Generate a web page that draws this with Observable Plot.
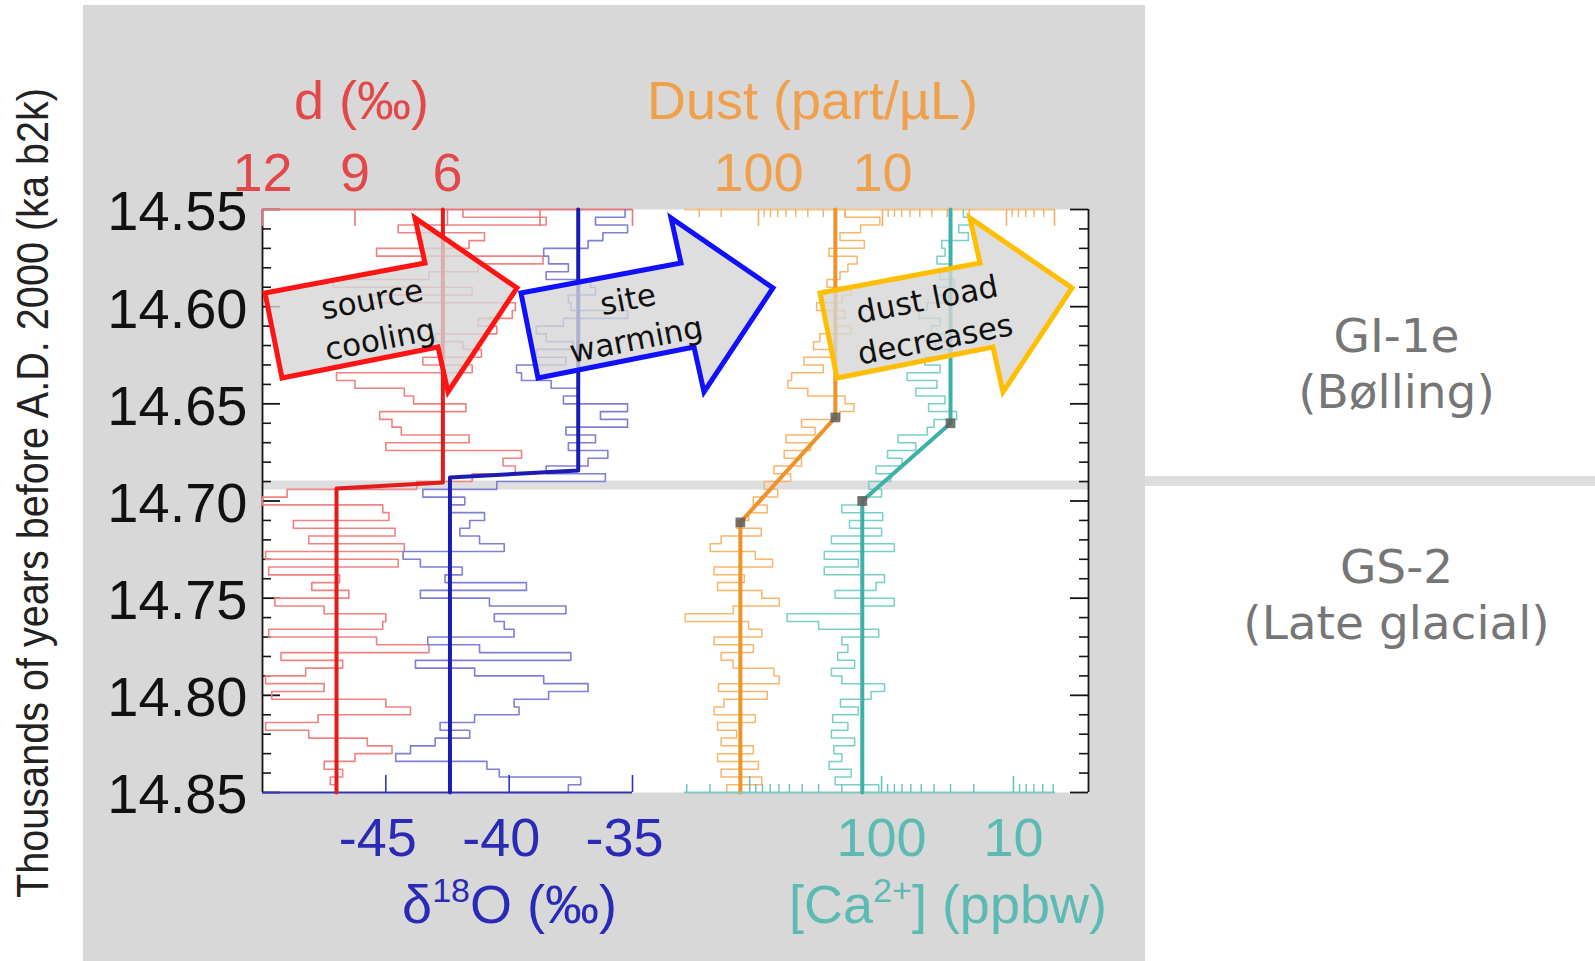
<!DOCTYPE html>
<html>
<head>
<meta charset="utf-8">
<script src="https://cdn.jsdelivr.net/npm/d3@7"></script>
<script src="https://cdn.jsdelivr.net/npm/@observablehq/plot@0.6"></script>
<style>
  html, body { margin: 0; padding: 0; background: #fff; }
  #chart { position: relative; width: 1595px; height: 961px; overflow: hidden; background: #fff; }
  #panel { position: absolute; left: 83px; top: 5px; width: 1062px; height: 956px; background: #d8d8d8; }
  #chart svg { position: absolute; left: 0; top: 0; }
</style>
</head>
<body>
<div id="chart"><div id="panel"></div></div>
<script>
// ---- Data: NGRIP profiles across the GS-2 / GI-1e transition ----
const ages = [
  14.550, 14.554, 14.558, 14.562, 14.566, 14.570, 14.574, 14.578, 14.582, 14.586,
  14.590, 14.594, 14.598, 14.602, 14.606, 14.610, 14.614, 14.618, 14.622, 14.626,
  14.630, 14.634, 14.638, 14.642, 14.646, 14.650, 14.654, 14.658, 14.662, 14.666,
  14.670, 14.674, 14.678, 14.682, 14.686, 14.690, 14.694, 14.698, 14.702, 14.706,
  14.710, 14.714, 14.718, 14.722, 14.726, 14.730, 14.734, 14.738, 14.742, 14.746,
  14.750, 14.754, 14.758, 14.762, 14.766, 14.770, 14.774, 14.778, 14.782, 14.786,
  14.790, 14.794, 14.798, 14.802, 14.806, 14.810, 14.814, 14.818, 14.822, 14.826,
  14.830, 14.834, 14.838, 14.842, 14.846, 14.850
];

// deuterium excess d (per mil)
const dExcess = [
  5.5, 2.8, 7.6, 4.8, 5.3, 8.3, 2.9, 5.0, 6.6, 9.7,
  5.2, 8.5, 3.8, 3.9, 5.0, 4.4, 6.4, 5.5, 4.9, 6.8,
  5.2, 9.6, 9.0, 7.4, 7.1, 5.4, 8.2, 7.8, 7.5, 5.3,
  8.0, 3.6, 4.2, 3.8, 5.2, 7.0, 11.2, 12.0, 8.1, 7.9,
  11.0, 7.7, 10.5, 7.4, 11.9, 7.6, 11.8, 9.5, 10.4, 9.2,
  11.6, 10.0, 8.0, 8.1, 11.8, 8.3, 6.6, 11.4, 9.4, 10.6,
  11.9, 10.0, 11.7, 8.0, 7.2, 10.2, 11.9, 10.5, 8.6, 7.8,
  9.0, 10.0, 9.4, 9.8, 9.6, 9.6
];

// delta 18O (per mil)
const d18O = [
  -35.3, -36.5, -35.2, -36.2, -36.8, -38.6, -38.4, -37.6, -38.5, -36.7,
  -36.5, -37.6, -37.5, -35.2, -37.8, -38.9, -38.5, -37.4, -38.9, -37.7,
  -39.7, -39.5, -38.3, -37.2, -37.8, -35.2, -36.3, -35.2, -37.7, -36.5,
  -37.6, -36.0, -36.8, -38.5, -36.1, -40.5, -43.5, -41.8, -42.4, -41.0,
  -41.6, -42.0, -41.2, -40.2, -44.3, -43.6, -41.9, -42.6, -39.3, -43.6,
  -40.8, -37.7, -40.6, -40.2, -39.8, -43.3, -41.2, -37.5, -43.8, -41.4,
  -38.6, -36.8, -38.4, -39.8, -39.6, -41.4, -42.8, -41.6, -43.0, -44.0,
  -44.6, -40.9, -40.4, -37.1, -37.6, -40.0
];

// dust (particles per microlitre)
const dust = [
  20, 10.5, 15, 22, 14, 27, 16, 19, 22, 28,
  18, 21, 34, 20, 24, 18, 32, 36, 26, 43,
  30, 54, 58, 40, 20, 17, 22, 45, 35, 60,
  38, 62, 45, 75, 55, 90, 70, 110, 85, 120,
  150, 95, 200, 245, 106, 77, 228, 130, 214, 94,
  68, 160, 390, 120, 94, 228, 110, 200, 160, 75,
  68, 210, 85, 190, 228, 106, 214, 150, 200, 110,
  214, 100, 200, 94, 180, 130
];

// calcium [Ca2+] (ppbw)
const calcium = [
  24, 21, 26, 22, 35, 33, 38, 30, 36, 28,
  40, 31, 45, 52, 36, 42, 33, 39, 30, 47,
  36, 64, 38, 55, 33, 44, 27, 40, 45, 75,
  55, 90, 70, 110, 85, 125, 100, 150, 200, 98,
  175, 100, 240, 80, 272, 150, 272, 95, 110, 225,
  80, 140, 520, 300, 105, 200, 180, 215, 160, 240,
  200, 95, 120, 205, 150, 235, 180, 240, 160, 230,
  200, 250, 170, 225, 105, 140
];

// fitted step / ramp profiles
const dMeanAge = [14.55, 14.6905, 14.6936, 14.85];
const dMean = [6.15, 6.15, 9.6, 9.6];
const d18OMeanAge = [14.55, 14.6843, 14.6879, 14.85];
const d18OMean = [-37.2, -37.2, -42.4, -42.4];
const dustMeanAge = [14.55, 14.657, 14.711, 14.85];
const dustMean = [24, 24, 140, 140];
const caMeanAge = [14.55, 14.660, 14.700, 14.85];
const caMean = [30, 30, 140, 140];

// axes
const ageMajor = [14.55, 14.60, 14.65, 14.70, 14.75, 14.80, 14.85];
const ageMinor = [14.56, 14.57, 14.58, 14.59, 14.61, 14.62, 14.63, 14.64, 14.66, 14.67, 14.68, 14.69,
                  14.71, 14.72, 14.73, 14.74, 14.76, 14.77, 14.78, 14.79, 14.81, 14.82, 14.83, 14.84];
const dTicks = [12, 9, 6, 3, 0];
const dTickLabels = [12, 9, 6];
const d18OTicks = [-45, -40, -35];
const d18OTickLabels = [-45, -40, -35];
const dustMajor = [100, 10, 1, 0.41];
const dustMinor = [300, 200, 90, 80, 70, 60, 50, 40, 30, 20, 9, 8, 7, 6, 5, 4, 3, 2, 0.9, 0.8, 0.7, 0.6, 0.5];
const dustTickLabels = [100, 10];
const caMajor = [1000, 100, 10];
const caMinor = [3000, 2000, 900, 800, 700, 600, 500, 400, 300, 200, 90, 80, 70, 60, 50, 40, 30, 20, 9, 8, 7, 6, 5];
const caTickLabels = [100, 10];

const bandAge = 14.6918;
const zoneNames = ["GI-1e\n(Bølling)", "GS-2\n(Late glacial)"];
const zoneAges = [14.6287, 14.7474];
const yTitle = "Thousands of years before A.D. 2000 (ka b2k)";

// ---- Layout ----
const W = 1595, H = 961;
const TOP = 209, BOTTOM = 792, FH = BOTTOM - TOP;
const PL = 262, PR = 1088, PANEL_RIGHT = 1145;
const AX = "Liberation Sans, Arial, Helvetica, sans-serif";
const colors = {
  d: "#e34848", dThin: "#f08282", dThick: "#e01c1c",
  o: "#2a2ab6", oThin: "#7f7fd6", oThick: "#1c1cb2",
  dust: "#f0a04a", dustThin: "#f6b76c", dustThick: "#f0922a",
  ca: "#5bbab2", caThin: "#78cfc7", caThick: "#3db1a8"
};

function layer(x, left, right, marks) {
  return Plot.plot({
    width: W, height: H,
    marginTop: TOP, marginBottom: H - BOTTOM, marginLeft: left, marginRight: W - right,
    x: {...x, axis: null},
    y: {domain: [14.55, 14.85], reverse: true, axis: null},
    style: {background: "transparent", overflow: "visible"},
    marks
  });
}

const rows = (vals) => ages.map((age, i) => ({age, v: vals[i]}));
const meanRows = (a, v) => a.map((age, i) => ({age, v: v[i]}));
const label = (opts) => ({lineAnchor: "middle", fontFamily: AX, fontSize: 54, ...opts});

// base layer: white plot area, zone boundary band, age axes and labels
const base = layer({domain: [0, 1]}, PL, PR, [
  Plot.frame({fill: "white", stroke: null}),
  Plot.ruleY([bandAge], {stroke: "#dedede", strokeWidth: 9}),
  Plot.ruleY([bandAge], {stroke: "#dedede", strokeWidth: 10, dy: -4, insetLeft: PANEL_RIGHT - PL, insetRight: -(W - PR)}),
  Plot.ruleX([0, 1], {stroke: "#151515", strokeWidth: 1.8}),
  Plot.ruleY(ageMajor, {stroke: "#151515", strokeWidth: 1.8, insetRight: (PR - PL) - 18}),
  Plot.ruleY(ageMinor, {stroke: "#151515", strokeWidth: 1.6, insetRight: (PR - PL) - 9}),
  Plot.ruleY(ageMajor, {stroke: "#151515", strokeWidth: 1.8, insetLeft: (PR - PL) - 18}),
  Plot.ruleY(ageMinor, {stroke: "#151515", strokeWidth: 1.6, insetLeft: (PR - PL) - 9}),
  Plot.text(ageMajor, {y: d => d, frameAnchor: "left", dx: -15, dy: 3, textAnchor: "end", lineAnchor: "middle",
    text: d => d.toFixed(2), fontSize: 56, fontFamily: AX, fill: "#111"}),
  Plot.text([yTitle], {frameAnchor: "left", dx: -229, dy: -8, rotate: -90, textAnchor: "middle", lineAnchor: "middle",
    text: d => d, fontSize: 45, fontFamily: AX, fill: "#222"}),
  Plot.text(zoneNames, {y: zoneAges, frameAnchor: "right", dx: 308, text: d => d, textAnchor: "middle",
    lineAnchor: "middle", lineHeight: 1.19, fontSize: 47, fontFamily: "DejaVu Sans, Verdana, sans-serif", fill: "#767676"})
]);

// deuterium excess (top axis, red)
const dLayer = layer({domain: [12, 0]}, PL, 632, [
  Plot.line(rows(dExcess), {x: "v", y: "age", curve: "step-before", stroke: colors.dThin, strokeWidth: 1.6}),
  Plot.ruleY([14.55], {stroke: "#e57a7a", strokeWidth: 2}),
  Plot.ruleX(dTicks, {x: d => d, stroke: "#e57a7a", strokeWidth: 1.6, insetBottom: FH - 17}),
  Plot.text(dTickLabels, label({x: d => d, frameAnchor: "top", dy: -36, text: d => String(d), fill: colors.d})),
  Plot.text(["d (‰)"], label({frameAnchor: "top", dx: -86, dy: -108, text: d => d, fill: colors.d}))
]);

// delta 18O (bottom axis, blue)
const oLayer = layer({domain: [-50, -35]}, PL, 632, [
  Plot.line(rows(d18O), {x: "v", y: "age", curve: "step-before", stroke: colors.oThin, strokeWidth: 1.6}),
  Plot.ruleY([14.85], {stroke: "#3434bc", strokeWidth: 2}),
  Plot.ruleX(d18OTicks, {x: d => d, stroke: "#3434bc", strokeWidth: 1.6, insetTop: FH - 17}),
  Plot.text(d18OTickLabels, label({x: d => d, frameAnchor: "bottom", dx: -8, dy: 46, text: d => String(d), fill: colors.o})),
  Plot.text(["δ18O (‰)"], label({frameAnchor: "bottom", dx: 62, dy: 113, text: d => d, fill: colors.o}))
]);

// fitted profiles of the left panel, drawn above both noisy records
const dMeanLayer = layer({domain: [12, 0]}, PL, 632, [
  Plot.line(meanRows(dMeanAge, dMean), {x: "v", y: "age", stroke: colors.dThick, strokeWidth: 4})
]);
const oMeanLayer = layer({domain: [-50, -35]}, PL, 632, [
  Plot.line(meanRows(d18OMeanAge, d18OMean), {x: "v", y: "age", stroke: colors.oThick, strokeWidth: 4})
]);

// dust (top axis, orange, log)
const dustLayer = layer({type: "log", domain: [395, 0.41]}, 684, 1054, [
  Plot.line(rows(dust), {x: "v", y: "age", curve: "step-before", stroke: colors.dustThin, strokeWidth: 1.5}),
  Plot.ruleY([14.55], {stroke: "#f2c188", strokeWidth: 2}),
  Plot.ruleX(dustMajor, {x: d => d, stroke: "#edb06a", strokeWidth: 1.6, insetBottom: FH - 17}),
  Plot.ruleX(dustMinor, {x: d => d, stroke: "#edb06a", strokeWidth: 1.4, insetBottom: FH - 8}),
  Plot.text(dustTickLabels, label({x: d => d, frameAnchor: "top", dy: -36, text: d => String(d), fill: colors.dust})),
  Plot.text(["Dust (part/µL)"], label({frameAnchor: "top", dx: -57, dy: -108, text: d => d, fill: colors.dust})),
  Plot.line(meanRows(dustMeanAge, dustMean), {x: "v", y: "age", stroke: colors.dustThick, strokeWidth: 4}),
  Plot.dot(meanRows(dustMeanAge.slice(1, 3), dustMean.slice(1, 3)), {x: "v", y: "age", symbol: "square", r: 5.5, fill: "#5e5e5e", fillOpacity: 0.85})
]);

// calcium (bottom axis, teal, log)
const caLayer = layer({type: "log", domain: [3120, 4.8]}, 684, 1055, [
  Plot.line(rows(calcium), {x: "v", y: "age", curve: "step-before", stroke: colors.caThin, strokeWidth: 1.5}),
  Plot.ruleY([14.85], {stroke: "#80c9c2", strokeWidth: 2}),
  Plot.ruleX(caMajor, {x: d => d, stroke: "#6cc0b9", strokeWidth: 1.6, insetTop: FH - 16}),
  Plot.ruleX(caMinor, {x: d => d, stroke: "#6cc0b9", strokeWidth: 1.4, insetTop: FH - 8}),
  Plot.text(caTickLabels, label({x: d => d, frameAnchor: "bottom", dy: 46, text: d => String(d), fill: colors.ca})),
  Plot.text(["[Ca2+] (ppbw)"], label({frameAnchor: "bottom", dx: 78, dy: 113, text: d => d, fill: colors.ca})),
  Plot.line(meanRows(caMeanAge, caMean), {x: "v", y: "age", stroke: colors.caThick, strokeWidth: 4}),
  Plot.dot(meanRows(caMeanAge.slice(1, 3), caMean.slice(1, 3)), {x: "v", y: "age", symbol: "square", r: 5.5, fill: "#5e5e5e", fillOpacity: 0.85})
]);

// superscripts in the axis titles
function superscript(svg, full, head, sup, tail) {
  d3.select(svg).selectAll("text").filter(function () { return this.textContent === full; }).each(function () {
    const t = d3.select(this).text(null);
    t.append("tspan").text(head);
    t.append("tspan").attr("font-size", 34).attr("dy", -21).text(sup);
    t.append("tspan").attr("dy", 21).text(tail);
  });
}
superscript(oLayer, "δ18O (‰)", "δ", "18", "O (‰)");
superscript(caLayer, "[Ca2+] (ppbw)", "[Ca", "2+", "] (ppbw)");

// condensed look for the vertical age title
d3.select(base).selectAll("text").filter(function () { return this.textContent === yTitle; }).each(function () {
  const tr = this.getAttribute("transform");
  if (tr) this.setAttribute("transform", tr + " scale(0.88,1)");
});

// annotation arrows
const arrowShape = [[820, 293], [980, 263], [970, 218], [1072, 288], [1003, 392], [993, 347], [837, 378]];
const arrowText = [[927, 299], [935, 339]];
const arrows = [
  {shift: -555, stroke: "#ff1414", lines: ["source", "cooling"]},
  {shift: -299, stroke: "#1010ff", lines: ["site", "warming"]},
  {shift: 0, stroke: "#ffbe00", lines: ["dust load", "decreases"]}
];
const notes = d3.create("svg").attr("width", W).attr("height", H);
for (const a of arrows) {
  const g = notes.append("g").attr("transform", `translate(${a.shift},0)`);
  g.append("polygon").attr("points", arrowShape.map(p => p.join(",")).join(" "))
    .attr("fill", "#d6d6d6").attr("fill-opacity", 0.8)
    .attr("stroke", a.stroke).attr("stroke-width", 5).attr("stroke-linejoin", "miter");
  a.lines.forEach((s, k) => {
    g.append("text")
      .attr("transform", `translate(${arrowText[k][0]},${arrowText[k][1]}) rotate(-11)`)
      .attr("text-anchor", "middle").attr("dominant-baseline", "central")
      .attr("font-family", "DejaVu Sans, Verdana, sans-serif").attr("font-size", 31).attr("fill", "#111")
      .text(s);
  });
}

const chart = document.getElementById("chart");
for (const el of [base, dLayer, oLayer, dustLayer, caLayer, dMeanLayer, oMeanLayer, notes.node()]) chart.appendChild(el);
</script>
</body>
</html>
